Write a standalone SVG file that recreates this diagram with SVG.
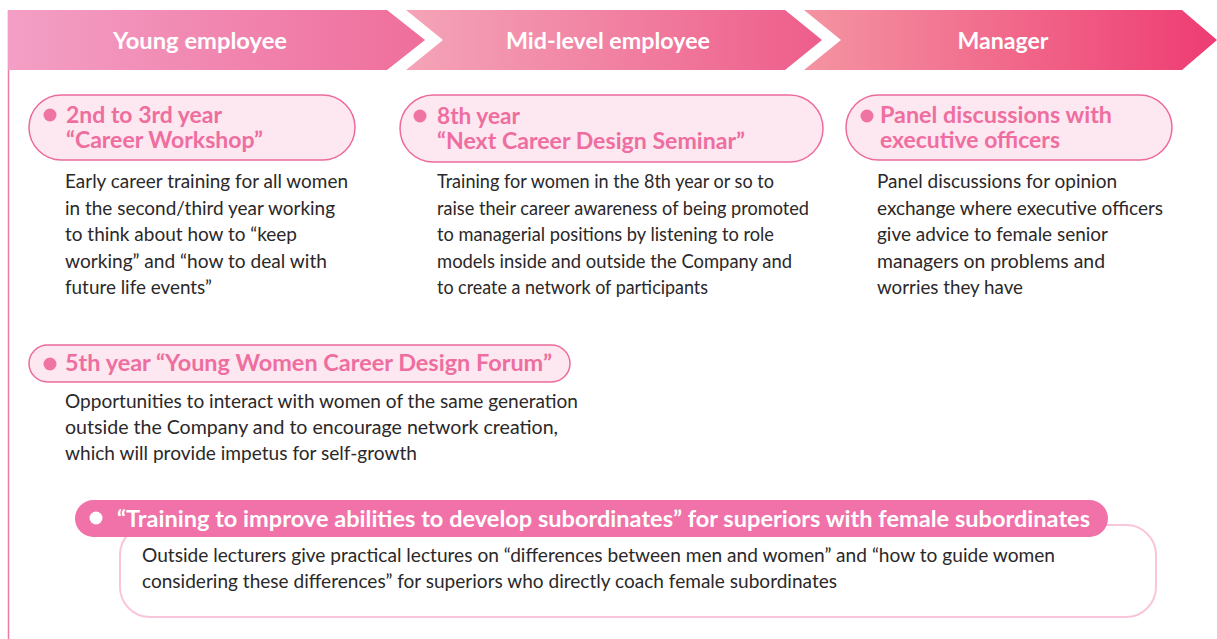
<svg xmlns="http://www.w3.org/2000/svg" width="1217" height="639" viewBox="0 0 1217 639">
  <defs>
    <linearGradient id="g1" x1="0" y1="0" x2="1" y2="0">
      <stop offset="0" stop-color="#f39fc5"/>
      <stop offset="1" stop-color="#ef6e9b"/>
    </linearGradient>
    <linearGradient id="g2" x1="0" y1="0" x2="1" y2="0">
      <stop offset="0" stop-color="#f4a4b8"/>
      <stop offset="1" stop-color="#ee5d8b"/>
    </linearGradient>
    <linearGradient id="g3" x1="0" y1="0" x2="1" y2="0">
      <stop offset="0" stop-color="#f494a2"/>
      <stop offset="1" stop-color="#ee3c73"/>
    </linearGradient>
    <style>
      .stage { font-family: Lato, "Liberation Sans", sans-serif; font-weight: 700; font-size: 22.5px; fill: #ffffff; text-anchor: middle; }
      .pill { fill: #fde7f0; stroke: #ec6b9d; stroke-width: 1.5; }
      .dot { fill: #ef73a3; }
      .title { font-family: Lato, "Liberation Sans", sans-serif; font-weight: 700; font-size: 22px; fill: #ee6ea0; }
      .desc { font-family: Lato, "Liberation Sans", sans-serif; font-size: 18.5px; fill: #2b2829; }
      .wtitle { font-family: Lato, "Liberation Sans", sans-serif; font-weight: 700; font-size: 22px; fill: #ffffff; }
    </style>
  </defs>

  <rect width="1217" height="639" fill="#ffffff"/>

  <!-- left timeline rule -->
  <line x1="8.5" y1="10" x2="8.5" y2="639" stroke="#ee7aa7" stroke-width="1.5"/>

  <!-- stage banners -->
  <g id="stage-young">
    <path d="M8,10 H387 L425,40 L387,70 H8 Z" fill="url(#g1)"/>
    <text class="stage" x="200" y="49" textLength="174" lengthAdjust="spacingAndGlyphs">Young employee</text>
  </g>
  <g id="stage-mid">
    <path d="M406,10 H785 L822,40 L785,70 H406 L443,40 Z" fill="url(#g2)"/>
    <text class="stage" x="608" y="49" textLength="204" lengthAdjust="spacingAndGlyphs">Mid-level employee</text>
  </g>
  <g id="stage-manager">
    <path d="M804,10 H1182 L1217,40 L1182,70 H804 L841,40 Z" fill="url(#g3)"/>
    <text class="stage" x="1003" y="49" textLength="91" lengthAdjust="spacingAndGlyphs">Manager</text>
  </g>

  <!-- Career Workshop -->
  <g id="career-workshop">
    <rect class="pill" x="29" y="95" width="326" height="65" rx="32.5"/>
    <circle class="dot" cx="50" cy="115" r="6.5"/>
    <text class="title" x="66" y="123" textLength="156" lengthAdjust="spacingAndGlyphs">2nd to 3rd year</text>
    <text class="title" x="66" y="148" textLength="197" lengthAdjust="spacingAndGlyphs">“Career Workshop”</text>
    <text class="desc" x="65" y="188" textLength="283" lengthAdjust="spacingAndGlyphs">Early career training for all women</text>
    <text class="desc" x="65" y="214.5" textLength="270" lengthAdjust="spacingAndGlyphs">in the second/third year working</text>
    <text class="desc" x="65" y="241" textLength="232" lengthAdjust="spacingAndGlyphs">to think about how to “keep</text>
    <text class="desc" x="65" y="267.5" textLength="262" lengthAdjust="spacingAndGlyphs">working” and “how to deal with</text>
    <text class="desc" x="65" y="294" textLength="147" lengthAdjust="spacingAndGlyphs">future life events”</text>
  </g>

  <!-- Next Career Design Seminar -->
  <g id="next-career-seminar">
    <rect class="pill" x="400" y="95" width="423" height="67" rx="33.5"/>
    <circle class="dot" cx="420" cy="116" r="6.5"/>
    <text class="title" x="437" y="124" textLength="83" lengthAdjust="spacingAndGlyphs">8th year</text>
    <text class="title" x="437" y="149" textLength="308" lengthAdjust="spacingAndGlyphs">“Next Career Design Seminar”</text>
    <text class="desc" x="437" y="188" textLength="337" lengthAdjust="spacingAndGlyphs">Training for women in the 8th year or so to</text>
    <text class="desc" x="437" y="214.5" textLength="372" lengthAdjust="spacingAndGlyphs">raise their career awareness of being promoted</text>
    <text class="desc" x="437" y="241" textLength="337" lengthAdjust="spacingAndGlyphs">to managerial positions by listening to role</text>
    <text class="desc" x="437" y="267.5" textLength="355" lengthAdjust="spacingAndGlyphs">models inside and outside the Company and</text>
    <text class="desc" x="437" y="294" textLength="271" lengthAdjust="spacingAndGlyphs">to create a network of participants</text>
  </g>

  <!-- Panel discussions -->
  <g id="panel-discussions">
    <rect class="pill" x="846" y="95" width="326" height="65" rx="32.5"/>
    <circle class="dot" cx="867" cy="116" r="6.5"/>
    <text class="title" x="880" y="123" textLength="232" lengthAdjust="spacingAndGlyphs">Panel discussions with</text>
    <text class="title" x="880" y="148" textLength="180" lengthAdjust="spacingAndGlyphs">executive officers</text>
    <text class="desc" x="877" y="188" textLength="240" lengthAdjust="spacingAndGlyphs">Panel discussions for opinion</text>
    <text class="desc" x="877" y="214.5" textLength="286" lengthAdjust="spacingAndGlyphs">exchange where executive officers</text>
    <text class="desc" x="877" y="241" textLength="231" lengthAdjust="spacingAndGlyphs">give advice to female senior</text>
    <text class="desc" x="877" y="267.5" textLength="228" lengthAdjust="spacingAndGlyphs">managers on problems and</text>
    <text class="desc" x="877" y="294" textLength="146" lengthAdjust="spacingAndGlyphs">worries they have</text>
  </g>

  <!-- Young Women Career Design Forum -->
  <g id="career-design-forum">
    <rect class="pill" x="29" y="345" width="541" height="37" rx="18.5"/>
    <circle class="dot" cx="50" cy="364" r="6.5"/>
    <text class="title" x="65" y="371" textLength="487" lengthAdjust="spacingAndGlyphs">5th year “Young Women Career Design Forum”</text>
    <text class="desc" x="65" y="408" textLength="513" lengthAdjust="spacingAndGlyphs">Opportunities to interact with women of the same generation</text>
    <text class="desc" x="65" y="434" textLength="493" lengthAdjust="spacingAndGlyphs">outside the Company and to encourage network creation,</text>
    <text class="desc" x="65" y="460" textLength="352" lengthAdjust="spacingAndGlyphs">which will provide impetus for self-growth</text>
  </g>

  <!-- Training for superiors -->
  <g id="superior-training">
    <rect x="120" y="525" width="1036" height="92" rx="30" fill="#ffffff" stroke="#f9c5da" stroke-width="2"/>
    <rect x="75" y="500" width="1033" height="37" rx="18.5" fill="#f072a8"/>
    <circle cx="96" cy="518" r="6.5" fill="#ffffff"/>
    <text class="wtitle" x="117" y="527" textLength="973" lengthAdjust="spacingAndGlyphs">“Training to improve abilities to develop subordinates” for superiors with female subordinates</text>
    <text class="desc" x="142" y="562" textLength="913" lengthAdjust="spacingAndGlyphs">Outside lecturers give practical lectures on “differences between men and women” and “how to guide women</text>
    <text class="desc" x="142" y="588" textLength="695" lengthAdjust="spacingAndGlyphs">considering these differences” for superiors who directly coach female subordinates</text>
  </g>
</svg>
